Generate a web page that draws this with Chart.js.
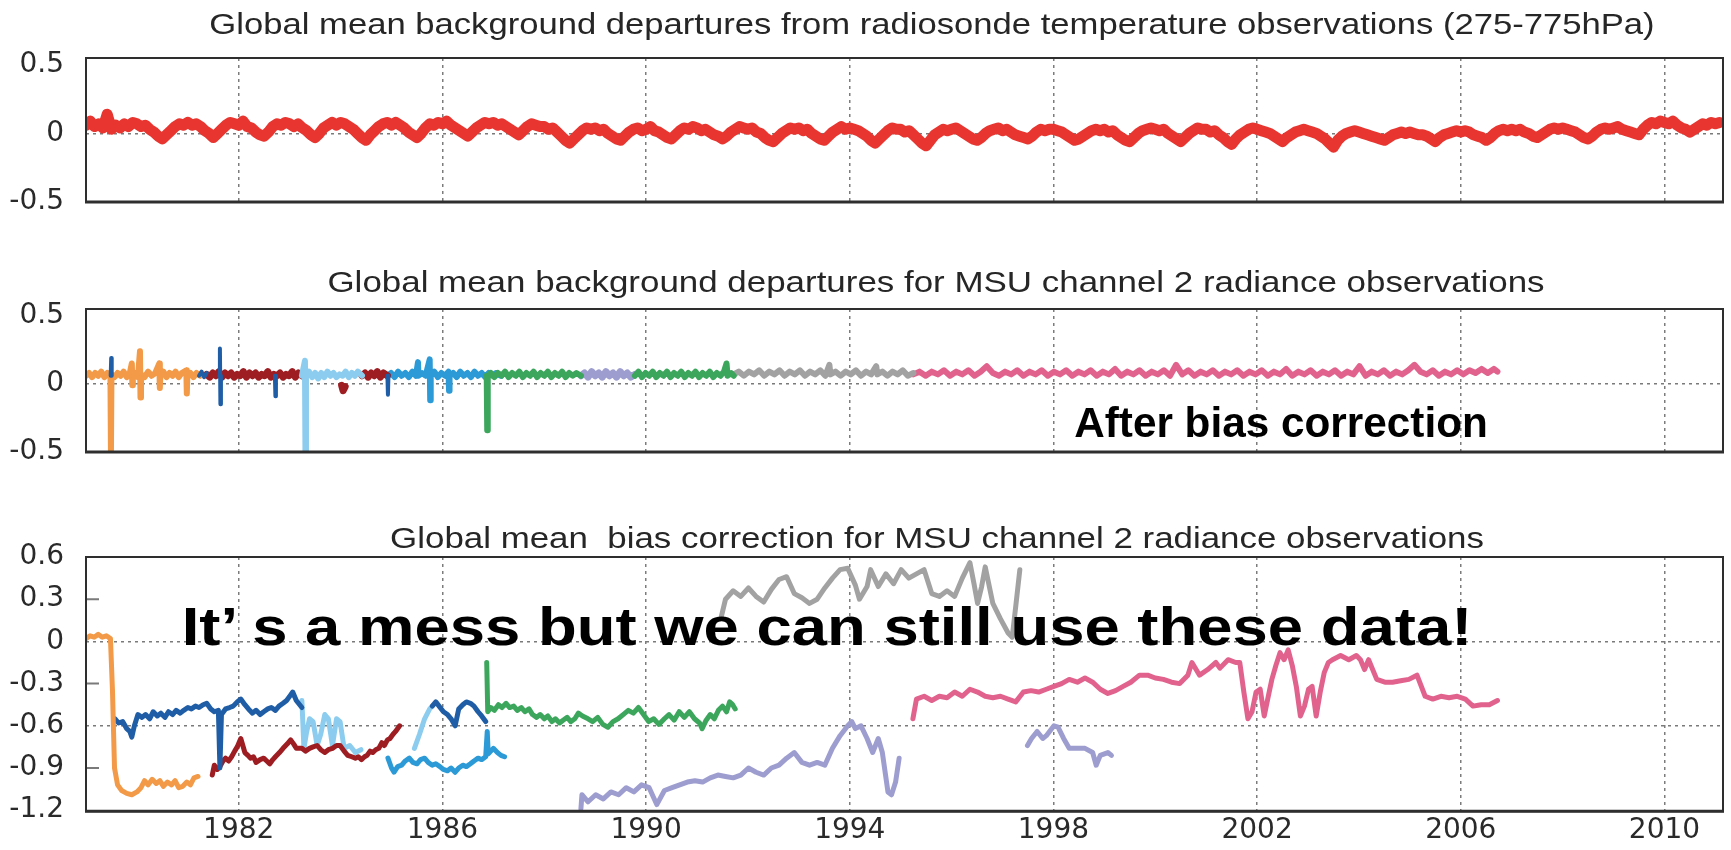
<!DOCTYPE html>
<html>
<head>
<meta charset="utf-8">
<title>MSU channel 2 departures and bias correction</title>
<script src="https://cdn.jsdelivr.net/npm/chart.js@4.4.1/dist/chart.umd.min.js"></script>
<style>
  html, body { margin: 0; padding: 0; background: #fff; }
  #stage { position: relative; width: 1731px; height: 850px; overflow: hidden; background: #fff; }
  #stage canvas { position: absolute; left: 0; top: 0; }
  .caption { position: absolute; white-space: nowrap; line-height: 1; transform-origin: center; }
  .title { font-family: "Liberation Sans", Arial, sans-serif; font-size: 30px; color: #262626; }
  .note { font-family: "Liberation Sans", Arial, sans-serif; font-weight: bold; color: #000; }
</style>
</head>
<body>
<div id="stage">
  <canvas id="radiosondeChart" width="1731" height="850"></canvas>
  <canvas id="msuAfterChart" width="1731" height="850"></canvas>
  <canvas id="msuCorrectionChart" width="1731" height="850"></canvas>

  <div class="caption title" data-x="932" data-y="24" data-w="1445">Global mean background departures from radiosonde temperature observations (275-775hPa)</div>
  <div class="caption title" data-x="936" data-y="282" data-w="1218">Global mean background departures for MSU channel 2 radiance observations</div>
  <div class="caption title" data-x="937" data-y="538" data-w="1094">Global mean&nbsp; bias correction for MSU channel 2 radiance observations</div>
  <div class="caption note" style="font-size:42px" data-x="1281" data-y="423" data-w="414">After bias correction</div>
  <div class="caption note" style="font-size:54px" data-x="827" data-y="626" data-w="1290">It’ s a mess but we can still use these data!</div>
</div>

<script>
// ---- axes ----
const yearTicks = [1982, 1986, 1990, 1994, 1998, 2002, 2006, 2010];
const departureTicks = [-0.5, 0, 0.5];
const correctionTicks = [-1.2, -0.9, -0.6, -0.3, 0, 0.3, 0.6];

// ---- radiosonde departures, monthly from Jan 1979 ----
const radiosondeStart = 1979;
const radiosondeDepartures = [
  0.06, 0.09, 0.05, 0.07, 0.04, 0.14, 0.03, 0.06, 0.04, 0.07, 0.05, 0.08,
  0.07, 0.05, 0.06, 0.03, 0.01, -0.02, -0.04, -0.01, 0.02, 0.05, 0.07, 0.06,
  0.08, 0.06, 0.07, 0.05, 0.02, 0.0, -0.03, 0.0, 0.03, 0.06, 0.08, 0.07,
  0.06, 0.09, 0.05, 0.04, 0.01, -0.01, -0.02, 0.01, 0.05, 0.07, 0.06, 0.08,
  0.07, 0.05, 0.07, 0.04, 0.02, -0.01, -0.03, 0.0, 0.04, 0.06, 0.08, 0.06,
  0.08, 0.07, 0.05, 0.03, 0.0, -0.03, -0.05, -0.01, 0.02, 0.05, 0.07, 0.08,
  0.06, 0.08, 0.06, 0.04, 0.01, -0.01, -0.03, 0.0, 0.04, 0.07, 0.06, 0.08,
  0.07, 0.09, 0.06, 0.04, 0.02, 0.0, -0.02, 0.01, 0.04, 0.06, 0.08, 0.07,
  0.08, 0.06, 0.07, 0.05, 0.03, 0.01, -0.01, 0.02, 0.05, 0.07, 0.06, 0.05,
  0.05, 0.03, 0.04, 0.01, -0.02, -0.05, -0.07, -0.04, -0.01, 0.02, 0.04, 0.03,
  0.04, 0.02, 0.03, 0.0, -0.02, -0.04, -0.05, -0.02, 0.01, 0.03, 0.04, 0.02,
  0.03, 0.05, 0.02, 0.01, -0.01, -0.03, -0.04, -0.01, 0.02, 0.04, 0.03, 0.05,
  0.04, 0.02, 0.03, 0.01, -0.01, -0.02, -0.04, -0.02, 0.01, 0.03, 0.05, 0.04,
  0.03, 0.04, 0.01, 0.0, -0.03, -0.05, -0.06, -0.03, 0.0, 0.02, 0.04, 0.03,
  0.04, 0.02, 0.03, 0.0, -0.02, -0.04, -0.05, -0.02, 0.01, 0.03, 0.05, 0.03,
  0.04, 0.03, 0.02, 0.0, -0.02, -0.05, -0.07, -0.04, -0.01, 0.02, 0.04, 0.03,
  0.03, 0.01, 0.02, -0.01, -0.04, -0.07, -0.09, -0.05, -0.01, 0.01, 0.03, 0.02,
  0.03, 0.04, 0.02, 0.0, -0.02, -0.04, -0.05, -0.03, 0.0, 0.02, 0.03, 0.04,
  0.02, 0.03, 0.01, -0.01, -0.02, -0.03, -0.04, -0.02, 0.01, 0.03, 0.02, 0.03,
  0.03, 0.02, 0.01, -0.01, -0.03, -0.05, -0.04, -0.02, 0.0, 0.02, 0.03, 0.02,
  0.03, 0.01, 0.02, -0.01, -0.03, -0.05, -0.06, -0.03, 0.0, 0.02, 0.03, 0.04,
  0.03, 0.02, 0.03, 0.0, -0.02, -0.04, -0.06, -0.03, 0.0, 0.02, 0.04, 0.03,
  0.03, 0.01, 0.02, -0.01, -0.03, -0.06, -0.08, -0.04, -0.01, 0.01, 0.03, 0.04,
  0.03, 0.02, 0.01, 0.0, -0.02, -0.04, -0.06, -0.03, -0.01, 0.01, 0.02, 0.03,
  0.02, 0.01, 0.0, -0.02, -0.04, -0.07, -0.10, -0.05, -0.02, 0.0, 0.01, 0.02,
  0.01, 0.0, -0.01, -0.02, -0.03, -0.04, -0.05, -0.03, -0.01, 0.0, 0.01, 0.0,
  0.01, 0.0, -0.01, -0.01, -0.02, -0.04, -0.06, -0.03, -0.01, 0.0, 0.01, 0.02,
  0.01, 0.02, 0.01, -0.01, -0.02, -0.03, -0.05, -0.03, 0.0, 0.02, 0.03, 0.02,
  0.03, 0.02, 0.03, 0.01, 0.0, -0.02, -0.03, -0.01, 0.01, 0.03, 0.04, 0.03,
  0.04, 0.03, 0.02, 0.01, -0.01, -0.03, -0.04, -0.02, 0.01, 0.03, 0.04, 0.03,
  0.04, 0.05, 0.03, 0.02, 0.01, 0.0, -0.01, 0.03, 0.06, 0.08, 0.07, 0.09,
  0.08, 0.07, 0.09, 0.06, 0.04, 0.03, 0.01, 0.03, 0.05, 0.07, 0.06, 0.08,
  0.07, 0.08
];

// ---- MSU ch2 departures after bias correction: [year, K], null = gap ----
const orangeAfter = [
  [1979.00, 0.06], [1979.06, 0.08], [1979.12, 0.05], [1979.18, 0.08], [1979.24, 0.06], [1979.30, 0.09],
  [1979.36, 0.05], [1979.42, 0.08], [1979.48, 0.06], [1979.49, -0.50], [1979.50, 0.07], [1979.56, 0.05],
  [1979.62, 0.08], [1979.68, 0.06], [1979.74, 0.09], [1979.80, 0.05], [1979.86, 0.08], [1979.90, 0.15],
  [1979.91, -0.01], [1979.92, 0.06], [1979.98, 0.08], [1980.02, 0.05], [1980.06, 0.24], [1980.07, -0.10],
  [1980.08, 0.07], [1980.15, 0.05], [1980.22, 0.09], [1980.29, 0.06], [1980.36, 0.08], [1980.44, 0.15],
  [1980.45, -0.03], [1980.46, 0.06], [1980.52, 0.09], [1980.58, 0.05], [1980.64, 0.08], [1980.70, 0.06],
  [1980.76, 0.09], [1980.82, 0.05], [1980.88, 0.08], [1980.97, 0.10], [1980.98, -0.07], [1980.99, 0.06],
  [1981.05, 0.08], [1981.11, 0.05], [1981.17, 0.08], [1981.24, 0.06]
];
const darkBlueAfter = [
  [1979.485, 0.06], [1979.495, 0.19], [1979.505, 0.06], [1979.52, null],
  [1981.22, 0.06], [1981.27, 0.09], [1981.32, 0.05], [1981.37, 0.08], [1981.40, null],
  [1981.62, 0.06], [1981.63, 0.26], [1981.64, -0.15], [1981.65, 0.06], [1981.67, null],
  [1982.71, 0.06], [1982.72, -0.09], [1982.73, 0.06], [1982.75, null],
  [1984.92, 0.06], [1984.93, -0.08], [1984.94, 0.06]
];
const darkRedAfter = [
  [1981.37, 0.07], [1981.43, 0.05], [1981.49, 0.08], [1981.55, 0.06], [1981.61, 0.09], [1981.67, 0.05],
  [1981.73, 0.08], [1981.79, 0.06], [1981.85, 0.08], [1981.91, 0.05], [1981.97, 0.07], [1982.03, 0.06],
  [1982.09, 0.09], [1982.15, 0.05], [1982.21, 0.08], [1982.27, 0.06], [1982.33, 0.08], [1982.39, 0.05],
  [1982.45, 0.07], [1982.51, 0.06], [1982.57, 0.09], [1982.63, 0.05], [1982.69, 0.07], [1982.75, 0.06],
  [1982.81, 0.08], [1982.87, 0.05], [1982.93, 0.07], [1982.99, 0.06], [1983.05, 0.09], [1983.11, 0.05],
  [1983.17, 0.08], [1983.24, 0.06], [1983.26, null],
  [1984.02, -0.01], [1984.05, -0.05], [1984.09, -0.02], [1984.12, null],
  [1984.42, 0.06], [1984.48, 0.08], [1984.54, 0.05], [1984.60, 0.08], [1984.66, 0.06], [1984.72, 0.09],
  [1984.78, 0.05], [1984.84, 0.08], [1984.92, 0.06]
];
const lightBlueAfter = [
  [1983.24, 0.06], [1983.30, 0.17], [1983.31, -0.50], [1983.32, 0.06], [1983.38, 0.09], [1983.44, 0.05],
  [1983.50, 0.08], [1983.56, 0.04], [1983.62, 0.08], [1983.68, 0.05], [1983.74, 0.09], [1983.80, 0.06],
  [1983.86, 0.08], [1983.92, 0.05], [1983.98, 0.07], [1984.04, 0.06], [1984.10, 0.09], [1984.16, 0.05],
  [1984.22, 0.08], [1984.28, 0.06], [1984.34, 0.09], [1984.42, 0.06]
];
const brightBlueAfter = [
  [1984.92, 0.06], [1984.99, 0.08], [1985.06, 0.05], [1985.13, 0.09], [1985.20, 0.06], [1985.27, 0.08],
  [1985.34, 0.05], [1985.41, 0.09], [1985.48, 0.06], [1985.52, 0.16], [1985.53, 0.06], [1985.60, 0.08],
  [1985.67, 0.06], [1985.75, 0.18], [1985.76, -0.12], [1985.77, 0.06], [1985.84, 0.09], [1985.91, 0.05],
  [1985.98, 0.08], [1986.05, 0.06], [1986.12, 0.09], [1986.13, -0.05], [1986.14, 0.06], [1986.21, 0.08],
  [1986.28, 0.05], [1986.35, 0.09], [1986.42, 0.06], [1986.49, 0.08], [1986.56, 0.05], [1986.63, 0.09],
  [1986.70, 0.06], [1986.77, 0.08], [1986.84, 0.05], [1986.91, 0.08], [1986.98, 0.06], [1987.05, 0.08],
  [1987.15, 0.06]
];
const greenAfter = [
  [1986.87, 0.06], [1986.88, -0.34], [1986.89, 0.06], [1986.95, 0.08], [1987.02, 0.05], [1987.09, 0.08],
  [1987.16, 0.06], [1987.23, 0.09], [1987.30, 0.05], [1987.37, 0.08], [1987.44, 0.06], [1987.51, 0.09],
  [1987.58, 0.05], [1987.65, 0.08], [1987.72, 0.06], [1987.79, 0.09], [1987.86, 0.05], [1987.93, 0.08],
  [1988.00, 0.06], [1988.07, 0.09], [1988.14, 0.05], [1988.21, 0.08], [1988.28, 0.06], [1988.35, 0.09],
  [1988.42, 0.05], [1988.49, 0.08], [1988.56, 0.06], [1988.63, 0.08], [1988.72, 0.06], [1988.74, null],
  [1989.78, 0.06], [1989.85, 0.09], [1989.92, 0.05], [1989.99, 0.08], [1990.06, 0.06], [1990.13, 0.09],
  [1990.20, 0.05], [1990.27, 0.08], [1990.34, 0.06], [1990.41, 0.09], [1990.48, 0.05], [1990.55, 0.08],
  [1990.62, 0.06], [1990.69, 0.09], [1990.76, 0.05], [1990.83, 0.08], [1990.90, 0.06], [1990.97, 0.09],
  [1991.04, 0.05], [1991.11, 0.08], [1991.18, 0.06], [1991.25, 0.09], [1991.32, 0.05], [1991.39, 0.08],
  [1991.46, 0.06], [1991.53, 0.09], [1991.58, 0.15], [1991.60, 0.06], [1991.67, 0.08], [1991.72, 0.06]
];
const lavenderAfter = [
  [1988.72, 0.06], [1988.79, 0.08], [1988.86, 0.05], [1988.93, 0.09], [1989.00, 0.06], [1989.07, 0.08],
  [1989.14, 0.05], [1989.21, 0.09], [1989.28, 0.06], [1989.35, 0.08], [1989.42, 0.05], [1989.49, 0.09],
  [1989.56, 0.06], [1989.63, 0.08], [1989.70, 0.05], [1989.78, 0.07]
];
const grayAfter = [
  [1991.72, 0.07], [1991.82, 0.09], [1991.92, 0.06], [1992.02, 0.09], [1992.12, 0.07], [1992.22, 0.10],
  [1992.32, 0.06], [1992.42, 0.09], [1992.52, 0.07], [1992.62, 0.10], [1992.72, 0.06], [1992.82, 0.09],
  [1992.92, 0.07], [1993.02, 0.10], [1993.12, 0.06], [1993.22, 0.09], [1993.32, 0.07], [1993.42, 0.10],
  [1993.52, 0.06], [1993.60, 0.14], [1993.62, 0.07], [1993.72, 0.09], [1993.82, 0.06], [1993.92, 0.09],
  [1994.02, 0.07], [1994.12, 0.10], [1994.22, 0.06], [1994.32, 0.09], [1994.42, 0.07], [1994.52, 0.13],
  [1994.54, 0.07], [1994.64, 0.09], [1994.74, 0.06], [1994.84, 0.09], [1994.94, 0.07], [1995.04, 0.10],
  [1995.14, 0.06], [1995.25, 0.08]
];
const pinkAfter = [
  [1995.25, 0.07], [1995.37, 0.09], [1995.49, 0.06], [1995.61, 0.09], [1995.73, 0.07], [1995.85, 0.10],
  [1995.97, 0.06], [1996.09, 0.09], [1996.21, 0.07], [1996.33, 0.10], [1996.45, 0.06], [1996.57, 0.09],
  [1996.69, 0.13], [1996.81, 0.08], [1996.93, 0.06], [1997.05, 0.09], [1997.17, 0.07], [1997.29, 0.10],
  [1997.41, 0.06], [1997.53, 0.09], [1997.65, 0.07], [1997.77, 0.10], [1997.89, 0.06], [1998.01, 0.09],
  [1998.13, 0.07], [1998.25, 0.10], [1998.37, 0.06], [1998.49, 0.09], [1998.61, 0.07], [1998.73, 0.10],
  [1998.85, 0.06], [1998.97, 0.09], [1999.09, 0.07], [1999.21, 0.11], [1999.33, 0.06], [1999.45, 0.09],
  [1999.57, 0.07], [1999.69, 0.10], [1999.81, 0.06], [1999.93, 0.09], [2000.05, 0.07], [2000.17, 0.10],
  [2000.29, 0.06], [2000.41, 0.14], [2000.53, 0.07], [2000.65, 0.10], [2000.77, 0.06], [2000.89, 0.09],
  [2001.01, 0.07], [2001.13, 0.10], [2001.25, 0.06], [2001.37, 0.09], [2001.49, 0.07], [2001.61, 0.10],
  [2001.73, 0.06], [2001.85, 0.09], [2001.97, 0.07], [2002.09, 0.10], [2002.21, 0.06], [2002.33, 0.09],
  [2002.45, 0.07], [2002.57, 0.11], [2002.69, 0.06], [2002.81, 0.09], [2002.93, 0.07], [2003.05, 0.10],
  [2003.17, 0.06], [2003.29, 0.09], [2003.41, 0.07], [2003.53, 0.10], [2003.65, 0.06], [2003.77, 0.09],
  [2003.89, 0.07], [2004.01, 0.13], [2004.13, 0.06], [2004.25, 0.09], [2004.37, 0.07], [2004.49, 0.10],
  [2004.61, 0.06], [2004.73, 0.09], [2004.85, 0.07], [2004.97, 0.10], [2005.09, 0.14], [2005.21, 0.09],
  [2005.33, 0.07], [2005.45, 0.10], [2005.57, 0.06], [2005.69, 0.09], [2005.81, 0.07], [2005.93, 0.10],
  [2006.05, 0.07], [2006.17, 0.10], [2006.29, 0.08], [2006.41, 0.11], [2006.53, 0.08], [2006.65, 0.11],
  [2006.72, 0.09]
];

// ---- MSU ch2 global mean bias correction: [year, K] ----
const orangeCorr = [
  [1979.00, 0.02], [1979.08, 0.04], [1979.16, 0.03], [1979.24, 0.05], [1979.32, 0.03], [1979.40, 0.04],
  [1979.48, 0.02], [1979.52, -0.35], [1979.56, -0.90], [1979.62, -1.02], [1979.70, -1.06], [1979.80, -1.08],
  [1979.90, -1.09], [1980.00, -1.07], [1980.08, -1.04], [1980.15, -0.99], [1980.22, -1.02], [1980.30, -0.98],
  [1980.38, -1.01], [1980.45, -0.99], [1980.52, -1.03], [1980.60, -1.00], [1980.68, -1.02], [1980.75, -0.99],
  [1980.82, -1.04], [1980.90, -1.03], [1980.98, -1.00], [1981.05, -1.02], [1981.12, -0.97], [1981.20, -0.96]
];
const darkBlueCorr = [
  [1979.57, -0.55], [1979.64, -0.58], [1979.72, -0.57], [1979.80, -0.62], [1979.86, -0.64], [1979.90, -0.68],
  [1979.95, -0.60], [1980.02, -0.52], [1980.10, -0.54], [1980.17, -0.52], [1980.25, -0.55], [1980.32, -0.50],
  [1980.40, -0.53], [1980.47, -0.51], [1980.55, -0.54], [1980.62, -0.50], [1980.70, -0.52], [1980.77, -0.49],
  [1980.85, -0.51], [1980.92, -0.49], [1981.00, -0.47], [1981.07, -0.48], [1981.15, -0.46], [1981.22, -0.47],
  [1981.30, -0.45], [1981.37, -0.44], [1981.45, -0.48], [1981.52, -0.50], [1981.60, -0.49], [1981.63, -0.90],
  [1981.66, -0.52], [1981.74, -0.48], [1981.82, -0.47], [1981.89, -0.46], [1981.97, -0.43], [1982.04, -0.41],
  [1982.12, -0.45], [1982.19, -0.48], [1982.27, -0.51], [1982.34, -0.49], [1982.42, -0.52], [1982.49, -0.50],
  [1982.57, -0.48], [1982.64, -0.47], [1982.72, -0.49], [1982.79, -0.46], [1982.87, -0.44], [1982.94, -0.42],
  [1983.02, -0.38], [1983.06, -0.36], [1983.13, -0.42], [1983.24, -0.47], [1983.30, null],
  [1985.80, -0.46], [1985.87, -0.43], [1986.02, -0.50], [1986.10, -0.52], [1986.17, -0.55], [1986.25, -0.60],
  [1986.32, -0.48], [1986.40, -0.45], [1986.47, -0.43], [1986.55, -0.44], [1986.62, -0.46], [1986.70, -0.50],
  [1986.77, -0.53], [1986.85, -0.57]
];
const darkRedCorr = [
  [1981.48, -0.95], [1981.52, -0.88], [1981.58, -0.91], [1981.63, -0.89], [1981.69, -0.85], [1981.74, -0.83],
  [1981.80, -0.85], [1981.86, -0.82], [1981.92, -0.78], [1981.97, -0.75], [1982.04, -0.69], [1982.08, -0.74],
  [1982.12, -0.79], [1982.18, -0.81], [1982.23, -0.83], [1982.29, -0.82], [1982.34, -0.86], [1982.42, -0.84],
  [1982.49, -0.83], [1982.55, -0.85], [1982.61, -0.87], [1982.67, -0.84], [1982.72, -0.82], [1982.80, -0.79],
  [1982.87, -0.76], [1982.95, -0.73], [1983.02, -0.70], [1983.08, -0.73], [1983.13, -0.76], [1983.24, -0.76],
  [1983.31, -0.78], [1983.39, -0.76], [1983.46, -0.75], [1983.54, -0.74], [1983.61, -0.77], [1983.69, -0.79],
  [1983.76, -0.77], [1983.84, -0.76], [1983.92, -0.74], [1983.99, -0.74], [1984.07, -0.78], [1984.14, -0.81],
  [1984.22, -0.82], [1984.29, -0.83], [1984.35, -0.82], [1984.41, -0.84], [1984.47, -0.82], [1984.52, -0.81],
  [1984.58, -0.78], [1984.63, -0.79], [1984.69, -0.77], [1984.75, -0.76], [1984.81, -0.72], [1984.86, -0.74],
  [1984.92, -0.70], [1984.97, -0.69], [1985.03, -0.66], [1985.08, -0.64], [1985.16, -0.60]
];
const lightBlueCorr = [
  [1983.24, -0.42], [1983.28, -0.76], [1983.33, -0.65], [1983.39, -0.55], [1983.46, -0.57], [1983.54, -0.74],
  [1983.61, -0.66], [1983.69, -0.52], [1983.76, -0.55], [1983.84, -0.74], [1983.92, -0.55], [1983.99, -0.57],
  [1984.07, -0.76], [1984.18, -0.74], [1984.29, -0.79], [1984.40, -0.77], [1984.90, null],
  [1985.45, -0.76], [1985.55, -0.66], [1985.65, -0.55], [1985.75, -0.48], [1985.80, -0.46]
];
const brightBlueCorr = [
  [1984.93, -0.83], [1985.00, -0.90], [1985.05, -0.93], [1985.12, -0.89], [1985.20, -0.88], [1985.27, -0.85],
  [1985.35, -0.83], [1985.42, -0.86], [1985.50, -0.87], [1985.57, -0.84], [1985.65, -0.83], [1985.72, -0.86],
  [1985.80, -0.88], [1985.87, -0.87], [1985.95, -0.89], [1986.02, -0.91], [1986.10, -0.92], [1986.17, -0.90],
  [1986.25, -0.93], [1986.32, -0.90], [1986.40, -0.88], [1986.47, -0.89], [1986.55, -0.87], [1986.62, -0.85],
  [1986.70, -0.83], [1986.77, -0.84], [1986.85, -0.82], [1986.88, -0.64], [1986.90, -0.80], [1987.00, -0.76],
  [1987.08, -0.79], [1987.15, -0.81], [1987.22, -0.82]
];
const greenCorr = [
  [1986.87, -0.15], [1986.89, -0.50], [1986.95, -0.47], [1987.02, -0.49], [1987.10, -0.45], [1987.17, -0.47],
  [1987.25, -0.44], [1987.32, -0.47], [1987.40, -0.46], [1987.47, -0.49], [1987.55, -0.47], [1987.62, -0.50],
  [1987.70, -0.48], [1987.77, -0.52], [1987.85, -0.54], [1987.92, -0.52], [1988.00, -0.55], [1988.07, -0.53],
  [1988.15, -0.57], [1988.22, -0.55], [1988.30, -0.58], [1988.37, -0.56], [1988.45, -0.54], [1988.52, -0.57],
  [1988.60, -0.55], [1988.67, -0.51], [1988.75, -0.53], [1988.86, -0.55], [1988.95, -0.57], [1989.05, -0.54],
  [1989.15, -0.59], [1989.25, -0.61], [1989.35, -0.57], [1989.45, -0.55], [1989.55, -0.52], [1989.65, -0.49],
  [1989.75, -0.51], [1989.85, -0.47], [1989.95, -0.52], [1990.05, -0.57], [1990.15, -0.55], [1990.25, -0.59],
  [1990.36, -0.55], [1990.45, -0.52], [1990.55, -0.56], [1990.65, -0.50], [1990.75, -0.54], [1990.85, -0.50],
  [1990.95, -0.55], [1991.05, -0.58], [1991.10, -0.62], [1991.18, -0.56], [1991.26, -0.52], [1991.34, -0.55],
  [1991.42, -0.49], [1991.50, -0.46], [1991.58, -0.50], [1991.64, -0.43], [1991.70, -0.45], [1991.75, -0.48]
];
const lavenderCorr = [
  [1988.72, -1.19], [1988.74, -1.09], [1988.86, -1.14], [1989.01, -1.09], [1989.16, -1.12], [1989.31, -1.07],
  [1989.46, -1.09], [1989.61, -1.04], [1989.76, -1.07], [1989.91, -1.02], [1990.06, -1.04], [1990.21, -1.16],
  [1990.36, -1.06], [1990.51, -1.04], [1990.66, -1.02], [1990.81, -1.00], [1990.96, -0.99], [1991.11, -1.00],
  [1991.26, -0.97], [1991.41, -0.95], [1991.56, -0.96], [1991.71, -0.97], [1991.86, -0.95], [1992.01, -0.90],
  [1992.16, -0.93], [1992.31, -0.95], [1992.46, -0.90], [1992.61, -0.88], [1992.76, -0.83], [1992.91, -0.79],
  [1993.06, -0.86], [1993.21, -0.88], [1993.36, -0.86], [1993.51, -0.88], [1993.66, -0.76], [1993.81, -0.67],
  [1993.96, -0.60], [1994.04, -0.57], [1994.11, -0.62], [1994.22, -0.60], [1994.34, -0.69], [1994.45, -0.79],
  [1994.56, -0.69], [1994.64, -0.79], [1994.75, -1.07], [1994.82, -1.09], [1994.90, -1.00], [1994.97, -0.83],
  [1995.10, null],
  [1997.49, -0.74], [1997.57, -0.69], [1997.68, -0.64], [1997.79, -0.69], [1997.86, -0.67], [1998.01, -0.60],
  [1998.09, -0.61], [1998.20, -0.69], [1998.31, -0.76], [1998.47, -0.76], [1998.62, -0.76], [1998.77, -0.79],
  [1998.84, -0.88], [1998.92, -0.81], [1999.07, -0.79], [1999.14, -0.81]
];
const grayCorr = [
  [1991.48, 0.18], [1991.56, 0.30], [1991.71, 0.36], [1991.86, 0.32], [1992.01, 0.38], [1992.16, 0.32],
  [1992.31, 0.28], [1992.46, 0.37], [1992.61, 0.44], [1992.76, 0.46], [1992.91, 0.34], [1993.06, 0.31],
  [1993.21, 0.27], [1993.36, 0.30], [1993.51, 0.38], [1993.66, 0.45], [1993.81, 0.51], [1993.96, 0.52],
  [1994.11, 0.40], [1994.19, 0.30], [1994.34, 0.39], [1994.41, 0.51], [1994.56, 0.39], [1994.71, 0.48],
  [1994.86, 0.41], [1995.01, 0.51], [1995.16, 0.45], [1995.31, 0.48], [1995.46, 0.51], [1995.61, 0.34],
  [1995.76, 0.32], [1995.91, 0.36], [1996.06, 0.32], [1996.21, 0.45], [1996.36, 0.56], [1996.44, 0.41],
  [1996.51, 0.27], [1996.59, 0.39], [1996.66, 0.53], [1996.81, 0.27], [1996.96, 0.16], [1997.11, 0.06],
  [1997.19, 0.03], [1997.26, 0.25], [1997.34, 0.51]
];
const pinkCorr = [
  [1995.24, -0.55], [1995.31, -0.41], [1995.46, -0.39], [1995.61, -0.42], [1995.76, -0.39], [1995.91, -0.40],
  [1996.06, -0.36], [1996.21, -0.39], [1996.36, -0.34], [1996.51, -0.36], [1996.66, -0.39], [1996.81, -0.40],
  [1996.96, -0.39], [1997.11, -0.41], [1997.26, -0.43], [1997.41, -0.36], [1997.56, -0.35], [1997.71, -0.36],
  [1997.86, -0.34], [1998.01, -0.32], [1998.16, -0.30], [1998.31, -0.27], [1998.47, -0.29], [1998.62, -0.26],
  [1998.77, -0.29], [1998.92, -0.34], [1999.07, -0.37], [1999.22, -0.35], [1999.37, -0.32], [1999.52, -0.29],
  [1999.69, -0.24], [1999.85, -0.24], [2000.00, -0.26], [2000.16, -0.27], [2000.32, -0.29], [2000.48, -0.30],
  [2000.64, -0.24], [2000.72, -0.15], [2000.87, -0.24], [2001.03, -0.20], [2001.19, -0.15], [2001.27, -0.19],
  [2001.43, -0.13], [2001.58, -0.15], [2001.66, -0.15], [2001.74, -0.36], [2001.82, -0.55], [2001.90, -0.50],
  [2001.98, -0.36], [2002.06, -0.34], [2002.14, -0.53], [2002.22, -0.39], [2002.29, -0.27], [2002.37, -0.17],
  [2002.45, -0.08], [2002.53, -0.13], [2002.61, -0.06], [2002.69, -0.17], [2002.77, -0.32], [2002.85, -0.53],
  [2002.93, -0.46], [2003.01, -0.34], [2003.08, -0.32], [2003.16, -0.53], [2003.24, -0.36], [2003.32, -0.22],
  [2003.40, -0.15], [2003.48, -0.13], [2003.64, -0.10], [2003.80, -0.13], [2003.95, -0.10], [2004.03, -0.13],
  [2004.11, -0.20], [2004.19, -0.13], [2004.35, -0.27], [2004.51, -0.29], [2004.66, -0.29], [2004.82, -0.28],
  [2004.98, -0.27], [2005.14, -0.24], [2005.30, -0.39], [2005.45, -0.41], [2005.61, -0.39], [2005.77, -0.40],
  [2005.93, -0.39], [2006.09, -0.41], [2006.24, -0.46], [2006.40, -0.45], [2006.56, -0.45], [2006.72, -0.42]
];

// ---- drawing ----
const palette = {
  red: '#e8352f', orange: '#f29a48', darkBlue: '#1f5ea6', darkRed: '#9d1d22', lightBlue: '#8ccdef',
  brightBlue: '#2b9ad7', green: '#3ba65c', lavender: '#9d9dd0', gray: '#a2a2a2', pink: '#e1628d'
};

const toPoints = pairs => pairs.map(([x, y]) => ({ x, y }));

function series(pairs, color, width) {
  return { data: toPoints(pairs), borderColor: color, borderWidth: width, pointRadius: 0, tension: 0, spanGaps: false };
}

// box round the plot area, plus short inward ticks on the left edge
const frameBox = {
  id: 'frameBox',
  afterDraw(chart, args, opts) {
    const { ctx, chartArea: a } = chart;
    ctx.save();
    const yScale = chart.scales.y;
    ctx.strokeStyle = '#7a7a7a';
    ctx.lineWidth = 2;
    ctx.beginPath();
    (opts.innerTicks || []).forEach(v => {
      const py = yScale.getPixelForValue(v);
      ctx.moveTo(a.left, py);
      ctx.lineTo(a.left + 13, py);
    });
    ctx.stroke();
    ctx.strokeStyle = '#2e2e2e';
    ctx.lineWidth = 2;
    ctx.strokeRect(a.left, a.top, a.right - a.left, a.bottom - a.top);
    ctx.lineWidth = 3;
    ctx.beginPath();
    ctx.moveTo(a.left - 1, a.bottom);
    ctx.lineTo(a.right + 1, a.bottom);
    ctx.stroke();
    ctx.restore();
  }
};

function makePanel(canvasId, datasets, cfg) {
  return new Chart(document.getElementById(canvasId), {
    type: 'line',
    data: { datasets },
    options: {
      responsive: false,
      animation: false,
      events: [],
      layout: { padding: { left: 0, right: 8, top: cfg.top, bottom: 850 - cfg.bottom - cfg.axisHeight } },
      plugins: {
        legend: { display: false },
        tooltip: { enabled: false },
        frameBox: { innerTicks: cfg.innerTicks || [] }
      },
      elements: { line: { borderJoinStyle: 'round', borderCapStyle: 'round' } },
      scales: {
        x: {
          type: 'linear',
          min: 1979,
          max: 2011.15,
          afterBuildTicks: s => { s.ticks = yearTicks.map(v => ({ value: v })); },
          afterFit: s => { s.height = cfg.axisHeight; },
          grid: { color: '#7c7c7c', lineWidth: 1.5, drawTicks: false },
          border: { display: false, dash: [3, 4] },
          ticks: {
            display: cfg.showYears,
            padding: 3,
            maxRotation: 0,
            color: '#2a2a2a',
            font: { family: 'DejaVu Sans', size: 28 },
            callback: v => String(v)
          }
        },
        y: {
          min: cfg.yMin,
          max: cfg.yMax,
          afterBuildTicks: s => { s.ticks = cfg.yTicks.map(v => ({ value: v })); },
          afterFit: s => { s.width = 86; },
          grid: {
            color: c => (c.tick && cfg.dottedAt.includes(c.tick.value)) ? '#7a7a7a' : 'rgba(0,0,0,0)',
            lineWidth: 1.5,
            drawTicks: false
          },
          border: { display: false, dash: [3, 4] },
          ticks: {
            padding: 22,
            color: '#2a2a2a',
            font: { family: 'DejaVu Sans', size: 28 },
            callback: v => String(v)
          }
        }
      }
    },
    plugins: [frameBox]
  });
}

makePanel('radiosondeChart', [
  {
    data: radiosondeDepartures.map((v, i) => ({ x: radiosondeStart + i / 12, y: v })),
    borderColor: palette.red, borderWidth: 11, pointRadius: 0, tension: 0
  }
], { top: 58, bottom: 202, axisHeight: 0, showYears: false, yMin: -0.5, yMax: 0.55, yTicks: departureTicks, dottedAt: [0] });

makePanel('msuAfterChart', [
  series(darkBlueAfter, palette.darkBlue, 4),
  series(lightBlueAfter, palette.lightBlue, 6),
  series(orangeAfter, palette.orange, 6),
  series(darkRedAfter, palette.darkRed, 7),
  series(greenAfter, palette.green, 6),
  series(brightBlueAfter, palette.brightBlue, 6),
  series(lavenderAfter, palette.lavender, 7),
  series(grayAfter, palette.gray, 6),
  series(pinkAfter, palette.pink, 6)
], { top: 309, bottom: 452, axisHeight: 0, showYears: false, yMin: -0.5, yMax: 0.55, yTicks: departureTicks, dottedAt: [0] });

makePanel('msuCorrectionChart', [
  series(orangeCorr, palette.orange, 5),
  series(darkBlueCorr, palette.darkBlue, 5),
  series(darkRedCorr, palette.darkRed, 5),
  series(lightBlueCorr, palette.lightBlue, 5),
  series(brightBlueCorr, palette.brightBlue, 5),
  series(greenCorr, palette.green, 5),
  series(lavenderCorr, palette.lavender, 5),
  series(grayCorr, palette.gray, 5),
  series(pinkCorr, palette.pink, 5)
], {
  top: 557, bottom: 813, axisHeight: 37, showYears: true, yMin: -1.207, yMax: 0.6,
  yTicks: correctionTicks, dottedAt: [0, -0.6], innerTicks: [0.3, -0.3, -0.9]
});

// titles and notes: centre on their anchor and stretch to the measured span
document.querySelectorAll('.caption').forEach(el => {
  const k = Number(el.dataset.w) / el.offsetWidth;
  el.style.left = el.dataset.x + 'px';
  el.style.top = el.dataset.y + 'px';
  el.style.transform = 'translate(-50%, -50%) scaleX(' + k.toFixed(3) + ')';
});
</script>
</body>
</html>
